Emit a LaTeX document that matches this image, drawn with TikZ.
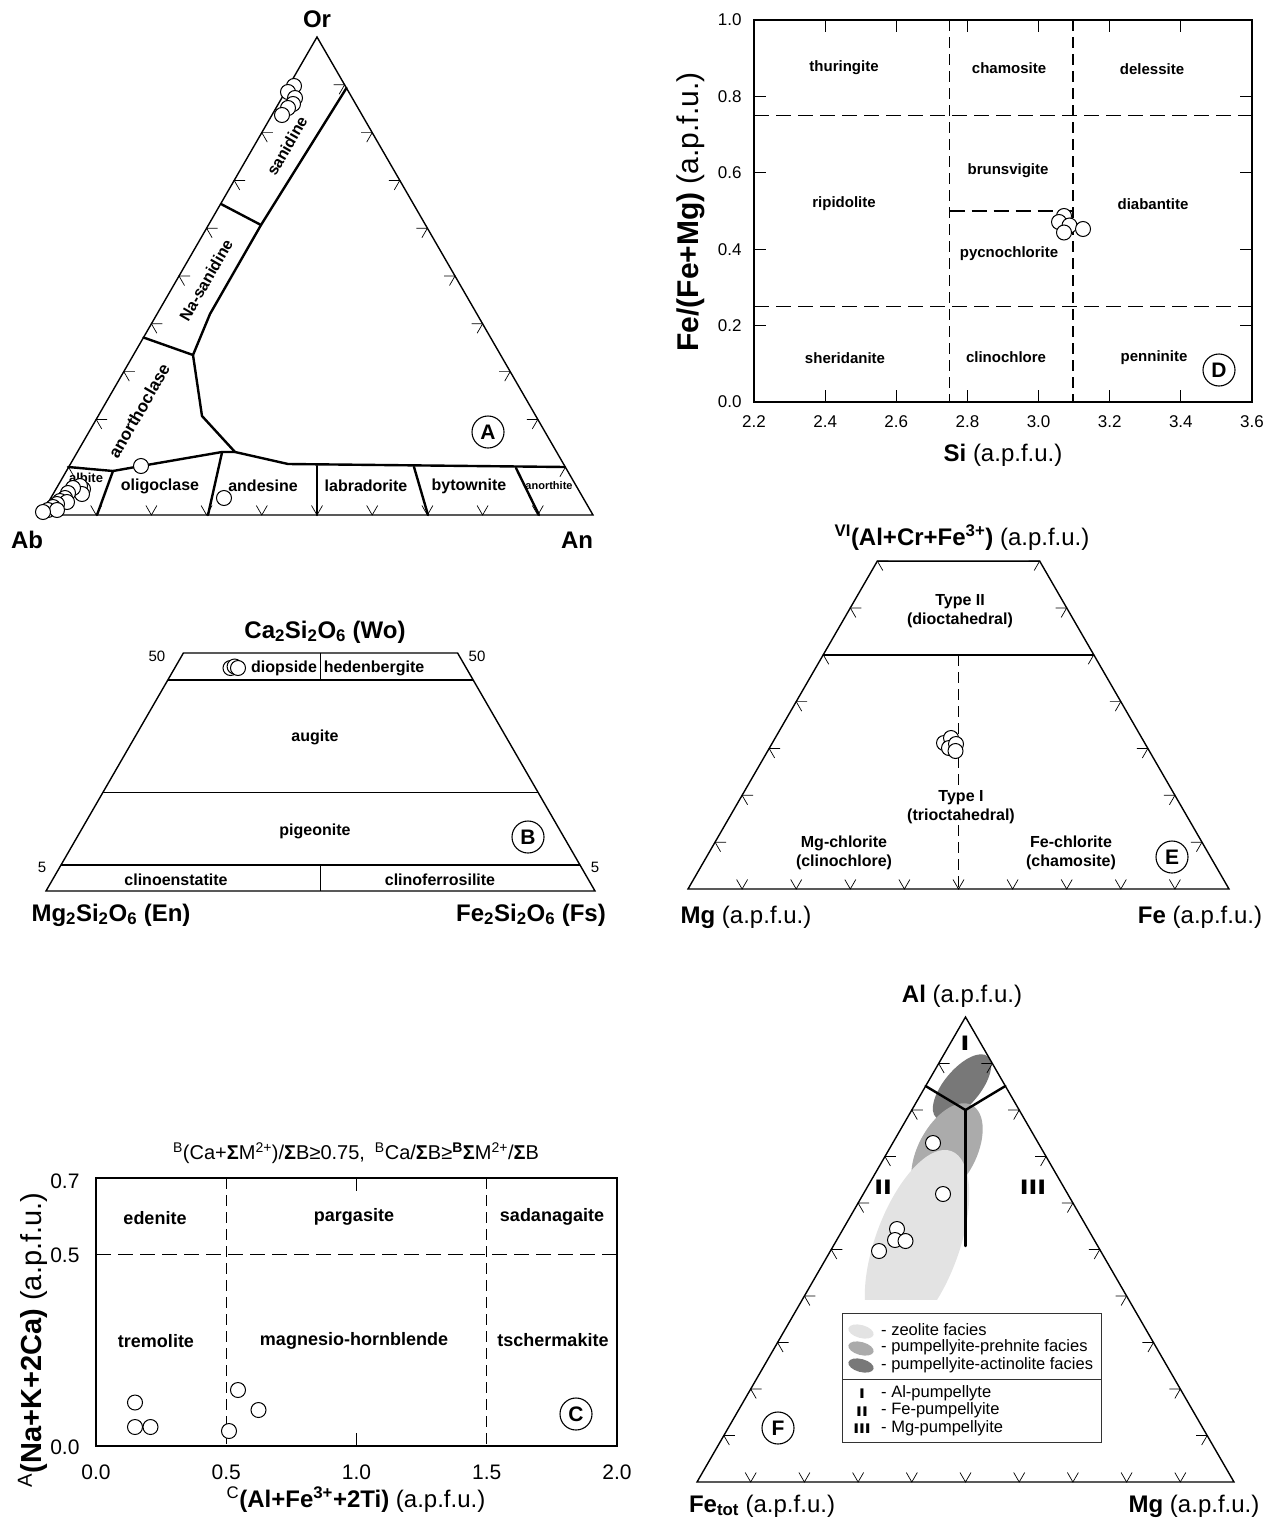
\documentclass[tikz,border=0pt]{standalone}
\usepackage{fontspec}
\setmainfont{Liberation Sans}
\usepackage{graphicx}
\usetikzlibrary{calc}
\newcommand{\myfs}[1]{\fontsize{#1}{#1}\selectfont}
% ternary ticks: #1 left base vertex, #2 right base vertex, #3 apex, #4 last side tick
\newcommand{\mytriticks}[4]{%
  \foreach \k in {1,...,9} {\draw[tk] ($(#1)!\k/10!(#2)$) +(-5.5,-9.5) -- +(0,0) -- +(5.5,-9.5);}
  \foreach \k in {1,...,#4} {%
    \draw[tk] ($(#1)!\k/10!(#3)$) +(11,0) -- +(0,0) -- +(5.5,9.5);
    \draw[tk] ($(#2)!\k/10!(#3)$) +(-11,0) -- +(0,0) -- +(-5.5,9.5);}%
}
\begin{document}
\begin{tikzpicture}[x=1pt,y=-1pt,
  frame/.style={line width=1.4pt, line join=miter},
  bnd/.style={line width=2.4pt, line join=round, line cap=round},
  tk/.style={line width=0.7pt},
  hdash/.style={line width=1.3pt, dash pattern=on 15pt off 7pt},
  vdash/.style={line width=1.3pt, dash pattern=on 11pt off 6pt},
  pt/.style={circle, draw, fill=white, line width=1pt, minimum size=15pt, inner sep=0pt},
  plab/.style={circle, draw, line width=1.1pt, minimum size=32pt, inner sep=0pt, font=\myfs{21}\bfseries},
  fA/.style={font=\myfs{16}\bfseries, inner sep=1pt},
  fD/.style={font=\myfs{15}\bfseries},
  fC/.style={font=\myfs{18}\bfseries},
  fE/.style={font=\fontsize{16}{18.5}\selectfont\bfseries, align=center},
  axl/.style={font=\myfs{24}},
  yaxl/.style={font=\myfs{29}, rotate=90, anchor=base, inner sep=0pt},
  big/.style={font=\myfs{24}\bfseries},
  tkD/.style={font=\myfs{17}},
  tkC/.style={font=\myfs{21}},
  leg/.style={font=\myfs{16.5}, anchor=west, inner sep=0pt},
  roman/.style={font=\myfs{21}\bfseries}
]
\useasboundingbox (0,0) rectangle (1276,1520);

%%%%%%%%%%%%%%%%%%%% Panel A %%%%%%%%%%%%%%%%%%%%
\coordinate (Ab) at (41,515);
\coordinate (An) at (593,515);
\coordinate (Or) at (317,37);
\draw[frame] (Ab) -- (An) -- (Or) -- cycle;
\mytriticks{Ab}{An}{Or}{9}
\draw[bnd] (346.5,88) -- (261,225) -- (210,314) -- (193,355) -- (202,416) -- (235,452) -- (288,464) -- (565,467);
\draw[bnd] (221,204) -- (261,225);
\draw[bnd] (143.5,337.5) -- (193,355);
\draw[bnd] (68,467) -- (113,471) -- (141,466) -- (222,452) -- (235,452);
\draw[bnd] (113,471) -- (97,515);
\draw[bnd] (222,452.5) -- (208,515);
\draw[bnd] (317,466) -- (317,515);
\draw[bnd] (414,467) -- (428,515);
\draw[bnd] (516,468) -- (539,515);
\node[fA, rotate=60] (lsan) at (287,146) {sanidine};
\node[fA, rotate=60] (lnasan) at (206,280) {Na-sanidine};
\node[font=\myfs{17}\bfseries, inner sep=1pt, rotate=60] (lano) at (139,411) {anorthoclase};
\node[font=\myfs{13}\bfseries] (lalb) at (86,478) {albite};
\node[fA] (lolig) at (160,486) {oligoclase};
\node[fA] (land) at (263,486) {andesine};
\node[fA] (llab) at (366,486) {labradorite};
\node[fA] (lbyt) at (469,486) {bytownite};
\node[font=\myfs{11}\bfseries] (lanor) at (549,486) {anorthite};
\node[big] (tOr) at (317,19) {Or};
\node[big] (tAb) at (27,540) {Ab};
\node[big] (tAn) at (577,540) {An};
\node[plab] (cA) at (488,432) {A};
\foreach \x/\y [count=\i] in {294/86,288/92,295/98,293/104,288/108,282/115,
  83/489,80/486,82/494,73/488,68/493,65/498,60/501,67/502,57/504,53/507,48/510,57/510,43/512,141/466,224/498}
  \node[pt] (pa\i) at (\x,\y) {};

%%%%%%%%%%%%%%%%%%%% Panel D %%%%%%%%%%%%%%%%%%%%
\draw[frame] (754,20) rectangle (1252,402);
\foreach \i in {1,...,6} {
  \draw[tk, line width=1pt] (754+\i*71.14,402) -- (754+\i*71.14,390);
  \draw[tk, line width=1pt] (754+\i*71.14,20) -- (754+\i*71.14,32);
}
\foreach \i in {1,...,4} {
  \draw[tk, line width=1pt] (754,402-\i*76.4) -- (766,402-\i*76.4);
  \draw[tk, line width=1pt] (1252,402-\i*76.4) -- (1240,402-\i*76.4);
}
\foreach \i/\t in {0/2.2,1/2.4,2/2.6,3/2.8,4/3.0,5/3.2,6/3.4,7/3.6}
  \node[tkD] (dxl\i) at (754+\i*71.14,422) {\t};
\foreach \i/\t in {0/0.0,1/0.2,2/0.4,3/0.6,4/0.8,5/1.0}
  \node[tkD, anchor=east] (dyl\i) at (745,402-\i*76.4) {\t};
\draw[vdash] (949.6,20) -- (949.6,402);
\draw[vdash] (1073,20) -- (1073,402);
\draw[hdash] (754,115.5) -- (1252,115.5);
\draw[hdash] (754,306.5) -- (1252,306.5);
\draw[hdash] (949.6,211) -- (1073,211);
\node[fD] (dthu) at (844,68) {thuringite};
\node[fD] (dcha) at (1009,68) {chamosite};
\node[fD] (ddel) at (1152,69) {delessite};
\node[fD] (dbru) at (1008,171) {brunsvigite};
\node[fD] (drip) at (844,204) {ripidolite};
\node[fD] (ddia) at (1153,204) {diabantite};
\node[fD] (dpyc) at (1009,254) {pycnochlorite};
\node[fD] (dshe) at (845,358) {sheridanite};
\node[fD] (dcli) at (1006,357) {clinochlore};
\node[fD] (dpen) at (1154,358) {penninite};
\node[plab] (cD) at (1219,370) {D};
\node[axl] (dxt) at (1003,455) {\textbf{Si} (a.p.f.u.)};
\node[yaxl, font=\myfs{30}] (dyt) at (698,212) {\textbf{Fe/(Fe+Mg)} (a.p.f.u.)};
\foreach \x/\y [count=\i] in {1064/216,1059/222,1069.5/225.5,1064/232.5,1083/229}
  \node[pt] (pd\i) at (\x,\y) {};

%%%%%%%%%%%%%%%%%%%% Panel B %%%%%%%%%%%%%%%%%%%%
\draw[frame] (183.4,653) -- (457.6,653) -- (595,891) -- (46,891) -- cycle;
\draw[frame] (167.9,680) -- (473.1,680);
\draw[frame] (103,792.3) -- (538,792.3);
\draw[frame] (61,865) -- (580,865);
\draw[frame] (320.5,653) -- (320.5,680);
\draw[frame] (320.5,865) -- (320.5,891);
\node[font=\myfs{15}] (b50l) at (157,656) {50};
\node[font=\myfs{15}] (b50r) at (477,656) {50};
\node[font=\myfs{15}] (b5l) at (42,867) {5};
\node[font=\myfs{15}] (b5r) at (595,867) {5};
\node[fA] (bdio) at (284,668) {diopside};
\node[fA] (bhed) at (374,668) {hedenbergite};
\node[fA] (baug) at (315,737) {augite};
\node[fA] (bpig) at (315,831) {pigeonite};
\node[fA] (bcen) at (176,880) {clinoenstatite};
\node[fA] (bcfs) at (440,880) {clinoferrosilite};
\node[plab] (cB) at (528,837) {B};
\node[big] (bWo) at (325,632) {Ca\textsubscript{2}Si\textsubscript{2}O\textsubscript{6} (Wo)};
\node[big] (bEn) at (111,915) {Mg\textsubscript{2}Si\textsubscript{2}O\textsubscript{6} (En)};
\node[big] (bFs) at (531,915) {Fe\textsubscript{2}Si\textsubscript{2}O\textsubscript{6} (Fs)};
\foreach \x/\y [count=\i] in {230.5/668,234.6/666.5,238/668}
  \node[pt] (pb\i) at (\x,\y) {};

%%%%%%%%%%%%%%%%%%%% Panel E %%%%%%%%%%%%%%%%%%%%
\coordinate (EMg) at (688,889);
\coordinate (EFe) at (1229,889);
\coordinate (EAl) at (958.5,420.5);
\draw[frame] (EMg) -- (EFe) -- ($(EFe)!0.7!(EAl)$) -- ($(EMg)!0.7!(EAl)$) -- cycle;
\mytriticks{EMg}{EFe}{EAl}{7}
\draw[line width=2pt] ($(EMg)!0.5!(EAl)$) -- ($(EFe)!0.5!(EAl)$);
\draw[vdash, line width=1.2pt] (958.5,655) -- (958.5,889);
\node[fE] (eT2) at (960,611) {Type II\\(dioctahedral)};
\node[fE, fill=white, inner sep=1pt] (eT1) at (961,807) {Type I\\(trioctahedral)};
\node[fE] (eMgc) at (844,853) {Mg-chlorite\\(clinochlore)};
\node[fE] (eFec) at (1071,853) {Fe-chlorite\\(chamosite)};
\node[plab] (cE) at (1172,857) {E};
\node[axl] (eTop) at (962,538) {\textbf{\textsuperscript{VI}(Al+Cr+Fe\textsuperscript{3+})} (a.p.f.u.)};
\node[axl] (eMg) at (746,917) {\textbf{Mg} (a.p.f.u.)};
\node[axl] (eFe) at (1200,917) {\textbf{Fe} (a.p.f.u.)};
\foreach \x/\y [count=\i] in {944/743,951/738,949/748,956/744,955.5/751}
  \node[pt] (pe\i) at (\x,\y) {};

%%%%%%%%%%%%%%%%%%%% Panel C %%%%%%%%%%%%%%%%%%%%
\draw[frame] (96,1178) rectangle (617,1446);
\draw[tk, line width=1pt] (356.5,1178) -- (356.5,1191);
\draw[tk, line width=1pt] (356.5,1446) -- (356.5,1433);
\draw[tk, line width=1pt] (96,1254.6) -- (109,1254.6);
\draw[vdash, line width=1.1pt] (226.25,1178) -- (226.25,1446);
\draw[vdash, line width=1.1pt] (486.75,1178) -- (486.75,1446);
\draw[hdash] (96,1254.6) -- (617,1254.6);
\foreach \i/\t in {0/0.0,1/0.5,2/1.0,3/1.5,4/2.0}
  \node[tkC] (cxl\i) at (96+\i*130.25,1472) {\t};
\node[tkC, anchor=east] (cyl0) at (83,1447) {0.0};
\node[tkC, anchor=east] (cyl1) at (83,1255) {0.5};
\node[tkC, anchor=east] (cyl2) at (83,1181) {0.7};
\node[fC] (cede) at (155,1218) {edenite};
\node[fC] (cpar) at (354,1217) {pargasite};
\node[fC] (csad) at (552,1217) {sadanagaite};
\node[fC] (ctre) at (156,1341) {tremolite};
\node[fC] (cmag) at (354,1341) {magnesio-hornblende};
\node[fC] (ctsc) at (553,1340) {tschermakite};
\node[plab] (cC) at (576,1414) {C};
\node[font=\myfs{20}] (cTitle) at (356,1153)
  {\textsuperscript{B}(Ca+\textbf{Σ}M\textsuperscript{2+})/\textbf{Σ}B≥0.75,\enspace\textsuperscript{B}Ca/\textbf{Σ}B≥\textsuperscript{\textbf{B}}\textbf{Σ}M\textsuperscript{2+}/\textbf{Σ}B};
\node[axl] (cxt) at (356,1500) {\textsuperscript{C}\textbf{(Al+Fe\textsuperscript{3+}+2Ti)} (a.p.f.u.)};
\node[yaxl] (cyt) at (41,1340) {\textsuperscript{A}\textbf{(Na+K+2Ca)} (a.p.f.u.)};
\foreach \x/\y [count=\i] in {135/1402.5,135/1427,150.5/1427,238/1390,258.5/1410,229/1431}
  \node[pt] (pc\i) at (\x,\y) {};

%%%%%%%%%%%%%%%%%%%% Panel F %%%%%%%%%%%%%%%%%%%%
\coordinate (FFe) at (697,1482);
\coordinate (FMg) at (1234,1482);
\coordinate (FAl) at (965.5,1017);
\fill[black!53, rotate around={50:(962,1087)}] (962,1087) ellipse [x radius=40pt, y radius=18pt];
\fill[black!33, rotate around={62:(947,1152)}] (947,1152) ellipse [x radius=53pt, y radius=29pt];
\begin{scope}
  \clip (800,1000) rectangle (1100,1299);
  \fill[black!11, rotate around={70:(917,1245)}] (917,1245) ellipse [x radius=100pt, y radius=42pt];
\end{scope}
\draw[frame] (FFe) -- (FMg) -- (FAl) -- cycle;
\mytriticks{FFe}{FMg}{FAl}{9}
\draw[bnd] (925.6,1086) -- (965.5,1110) -- (1005.4,1086);
\draw[bnd] (965.5,1110) -- (965.5,1246);
\node[roman] (fI) at (965,1043) {\scalebox{1.5}[1]{I}};
\node[roman] (fII) at (883,1187) {\scalebox{1.5}[1]{II}};
\node[roman] (fIII) at (1033,1187) {\scalebox{1.5}[1]{III}};
\foreach \x/\y [count=\i] in {933/1143,943/1194,897/1229,895/1240,905.5/1241,879/1251}
  \node[pt] (pf\i) at (\x,\y) {};
\draw[line width=1pt, black!80] (842,1313) rectangle (1101,1442);
\draw[line width=1pt, black!80] (842,1379) -- (1101,1379);
\fill[black!11, rotate around={-15:(861,1331.5)}] (861,1331.5) ellipse [x radius=13pt, y radius=6.5pt];
\fill[black!33, rotate around={-15:(861,1348.5)}] (861,1348.5) ellipse [x radius=13pt, y radius=6.5pt];
\fill[black!53, rotate around={-15:(861,1365.5)}] (861,1365.5) ellipse [x radius=13pt, y radius=6.5pt];
\node[leg] (lg1) at (881,1330) {- zeolite facies};
\node[leg] (lg2) at (881,1347.5) {- pumpellyite-prehnite facies};
\node[leg] (lg3) at (881,1365.5) {- pumpellyite-actinolite facies};
\node[leg] (lg4) at (881,1393) {- Al-pumpellyte};
\node[leg] (lg5) at (881,1410) {- Fe-pumpellyite};
\node[leg] (lg6) at (881,1428) {- Mg-pumpellyite};
\node[font=\myfs{14}\bfseries] (lgI) at (862,1394) {\scalebox{1.5}[1]{I}};
\node[font=\myfs{14}\bfseries] (lgII) at (862,1412) {\scalebox{1.5}[1]{II}};
\node[font=\myfs{14}\bfseries] (lgIII) at (862,1429) {\scalebox{1.5}[1]{III}};
\node[plab] (cF) at (778,1428) {F};
\node[axl] (fAl) at (962,996) {\textbf{Al} (a.p.f.u.)};
\node[axl] (fFe) at (762,1506) {\textbf{Fe\textsubscript{tot}} (a.p.f.u.)};
\node[axl] (fMg) at (1194,1506) {\textbf{Mg} (a.p.f.u.)};
\end{tikzpicture}
\end{document}
